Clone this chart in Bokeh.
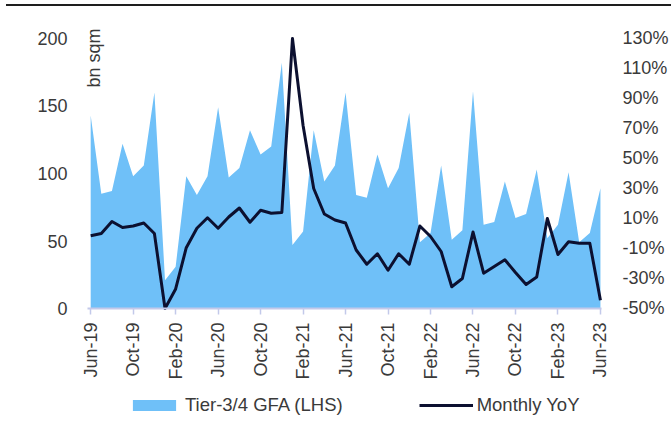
from math import pi
from bokeh.plotting import figure
from bokeh.models import (Range1d, LinearAxis, FixedTicker, PrintfTickFormatter,
                          Legend, LegendItem, Label, Div, ColumnDataSource)
from bokeh.layouts import column
from bokeh.embed import file_html
from bokeh.resources import INLINE

# ---------------- data ----------------
months = ["Jun-19", "Jul-19", "Aug-19", "Sep-19", "Oct-19", "Nov-19", "Dec-19",
          "Jan-20", "Feb-20", "Mar-20", "Apr-20", "May-20", "Jun-20", "Jul-20",
          "Aug-20", "Sep-20", "Oct-20", "Nov-20", "Dec-20", "Jan-21", "Feb-21",
          "Mar-21", "Apr-21", "May-21", "Jun-21", "Jul-21", "Aug-21", "Sep-21",
          "Oct-21", "Nov-21", "Dec-21", "Jan-22", "Feb-22", "Mar-22", "Apr-22",
          "May-22", "Jun-22", "Jul-22", "Aug-22", "Sep-22", "Oct-22", "Nov-22",
          "Dec-22", "Jan-23", "Feb-23", "Mar-23", "Apr-23", "May-23", "Jun-23"]

gfa = [143, 85, 87, 122, 98, 106, 160, 21, 31, 98, 84, 98, 149, 97, 104, 132,
       114, 120, 182, 47, 57, 132, 94, 106, 160, 84, 82, 114, 89, 104, 145, 49,
       56, 106, 51, 58, 161, 62, 64, 94, 67, 70, 103, 52, 62, 101, 49, 56, 89]

yoy = [-1.5, 0, 8, 4, 5, 7, 0, -50, -37, -9.5, 3.5, 10.5, 3.5, 11, 17, 7.5,
       15.5, 13.5, 14, 130, 72, 30, 13, 9, 7, -11, -20.5, -13.5, -24.5, -13.5,
       -20.5, 5, -2, -12, -35.5, -30, 1, -26.5, -22, -17.5, -26, -34, -29, 10,
       -14, -5.5, -6.5, -6.5, -44.5]

tick_labels = ["Jun-19", "Oct-19", "Feb-20", "Jun-20", "Oct-20", "Feb-21",
               "Jun-21", "Oct-21", "Feb-22", "Jun-22", "Oct-22", "Feb-23", "Jun-23"]
left_ticks = [0, 50, 100, 150, 200]
right_ticks = [-50, -30, -10, 10, 30, 50, 70, 90, 110, 130]

series_names = ["Tier-3/4 GFA (LHS)", "Monthly YoY"]
unit_label = "bn sqm"

# ---------------- style ----------------
FONT = "Liberation Sans"
FS = "18px"
TXT = "#3a3a3a"
AREA = "#6fc0f8"
LINE = "#0c1030"
AXIS = "#c3c9ea"

idx = list(range(len(months)))
src = ColumnDataSource(dict(x=idx, gfa=gfa, yoy=yoy, month=months))

# frame: y=0 / -50% at the axis line; range extends below for tick labels & legend
p = figure(width=671, height=414, output_backend="svg", toolbar_location=None,
           x_range=Range1d(-1.2416, 49.23), y_range=Range1d(-82.96, 213.33),
           min_border_left=77, min_border_right=58, min_border_top=14,
           min_border_bottom=0)
p.extra_y_ranges = {"yoy": Range1d(-124.67, 142)}
p.grid.visible = False
p.outline_line_color = None
p.background_fill_color = "white"
p.border_fill_color = "white"

area = p.varea(x="x", y1=0, y2="gfa", source=src, fill_color=AREA)
line = p.line(x="x", y="yoy", source=src, y_range_name="yoy",
              line_color=LINE, line_width=3, line_join="round")

# x axis, drawn at y = 0 inside the frame
tick_pos = [months.index(t) for t in tick_labels]
xa = p.xaxis[0]
xa.fixed_location = 0
xa.bounds = (-0.3, 48.1)
xa.ticker = FixedTicker(ticks=tick_pos)
xa.major_label_overrides = {pos: lab for pos, lab in zip(tick_pos, tick_labels)}
xa.major_label_orientation = pi / 2
xa.axis_line_color = AXIS
xa.axis_line_width = 2
xa.major_tick_line_color = AXIS
xa.major_tick_line_width = 1.5
xa.major_tick_out = 6
xa.major_tick_in = 0
xa.minor_tick_line_color = None
xa.major_label_standoff = 8
xa.major_label_text_font = FONT
xa.major_label_text_font_size = FS
xa.major_label_text_color = TXT

# left axis
ya = p.yaxis[0]
ya.ticker = FixedTicker(ticks=left_ticks)
ya.axis_line_color = None
ya.major_tick_line_color = None
ya.minor_tick_line_color = None
ya.major_tick_out = 0
ya.major_label_standoff = 10
ya.major_label_text_font = FONT
ya.major_label_text_font_size = FS
ya.major_label_text_color = TXT

# right axis
ra = LinearAxis(y_range_name="yoy", ticker=FixedTicker(ticks=right_ticks),
                formatter=PrintfTickFormatter(format="%d%%"))
ra.axis_line_color = None
ra.major_tick_line_color = None
ra.minor_tick_line_color = None
ra.major_tick_out = 0
ra.major_label_standoff = 9
ra.major_label_text_font = FONT
ra.major_label_text_font_size = FS
ra.major_label_text_color = TXT
p.add_layout(ra, "right")

# unit label
p.add_layout(Label(x=0.27, y=185.6, text=unit_label, angle=pi / 2,
                   text_align="center", text_baseline="middle",
                   text_font=FONT, text_font_size=FS, text_color=TXT))

# legend (inside the frame, below the tick labels)
legend = Legend(items=[LegendItem(label=series_names[0], renderers=[area]),
                       LegendItem(label=series_names[1], renderers=[line])],
                orientation="horizontal", location=(50, 4),
                glyph_width=54, glyph_height=14, label_standoff=4, spacing=76,
                padding=0, margin=0, border_line_color=None,
                background_fill_alpha=0,
                label_text_font=FONT, label_text_font_size="18.5px",
                label_text_color=TXT)
p.add_layout(legend)

top_rule = Div(text="", width=665, height=2, margin=(4, 0, 0, 6),
               styles={"background-color": "#1e1e1e"})

layout = column(top_rule, p, spacing=0)
open("out.html", "w").write(file_html(layout, INLINE))
